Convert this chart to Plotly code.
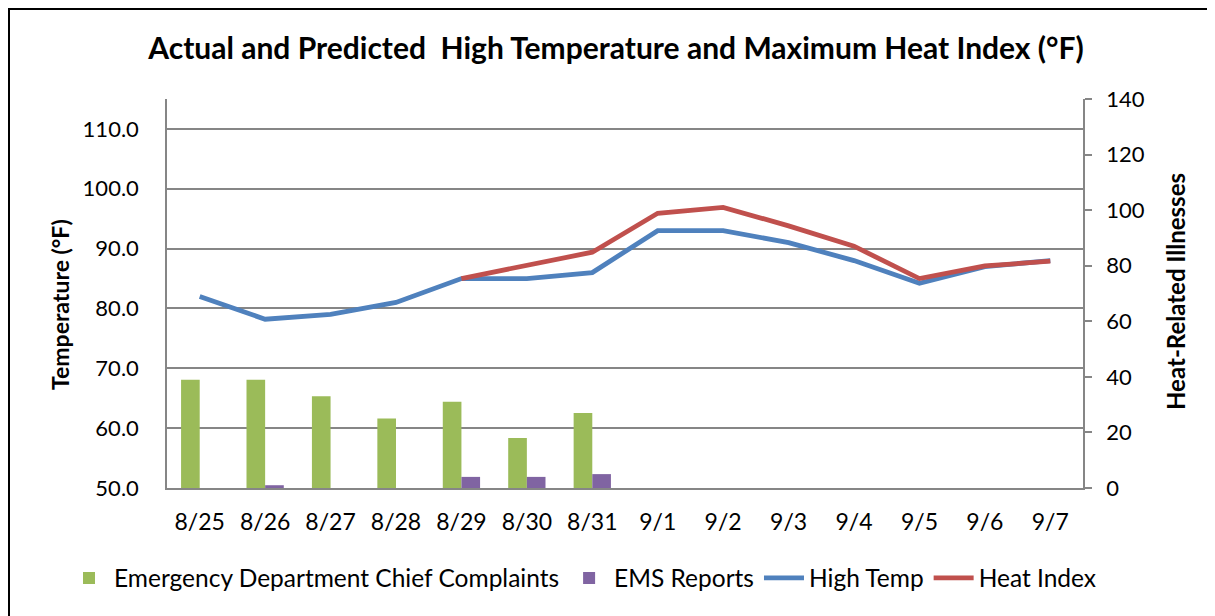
import plotly.graph_objects as go

dates = ["8/25", "8/26", "8/27", "8/28", "8/29", "8/30", "8/31",
         "9/1", "9/2", "9/3", "9/4", "9/5", "9/6", "9/7"]
ed_complaints = [39, 39, 33, 25, 31, 18, 27, None, None, None, None, None, None, None]
ems_reports = [0, 1, 0, 0, 4, 4, 5, None, None, None, None, None, None, None]
high_temp = [82, 78.2, 79, 81, 85, 85, 86, 93, 93, 91, 88, 84.2, 87, 88]
heat_index = [None, None, None, None, 85, 87.1, 89.4, 95.9, 96.9, 93.8, 90.4, 85, 87.1, 87.9]

left_ticks = [50, 60, 70, 80, 90, 100, 110]
right_ticks = [0, 20, 40, 60, 80, 100, 120, 140]

FONT = "Lato"
GRID = "#868686"
OFF = 8  # page body margin

fig = go.Figure()
fig.add_trace(go.Bar(x=dates, y=ed_complaints, name="Emergency Department Chief Complaints",
                     marker=dict(color="#9BBB59", line=dict(width=0)), yaxis="y2"))
fig.add_trace(go.Bar(x=dates, y=ems_reports, name="EMS Reports",
                     marker=dict(color="#8064A2", line=dict(width=0)), yaxis="y2"))
fig.add_trace(go.Scatter(x=dates, y=high_temp, name="High Temp", mode="lines",
                         line=dict(color="#4F81BD", width=4.8), yaxis="y"))
fig.add_trace(go.Scatter(x=dates, y=heat_index, name="Heat Index", mode="lines",
                         line=dict(color="#C0504D", width=4.8), yaxis="y", connectgaps=False))

W, H = 1215 - OFF, 616 - OFF
L, R, T, B = 167 - OFF, 1083 - OFF, 99 - OFF, 488 - OFF
pw, ph = R - L, B - T

def px(x):
    return (x - OFF - L) / pw

def py(y):
    return (B - (y - OFF)) / ph

fig.update_layout(
    width=W, height=H,
    margin=dict(l=L, r=W - R, t=T, b=H - B, autoexpand=False),
    paper_bgcolor="white", plot_bgcolor="white",
    barmode="group", bargap=0.43, bargroupgap=0,
    font=dict(family=FONT, color="black", size=22),
    title=dict(text="<b>Actual and Predicted  High Temperature and Maximum Heat Index (°F)</b>",
               x=px(616), xanchor="center", xref="paper", y=1 - (48 - OFF) / H, yanchor="middle",
               font=dict(family=FONT, size=30, color="black")),
    xaxis=dict(type="category", categoryorder="array", categoryarray=dates,
               showline=True, linecolor=GRID, linewidth=1.5, ticks="",
               showgrid=False, tickfont=dict(size=23), ticklabelstandoff=13),
    yaxis=dict(range=[50, 115], tickvals=left_ticks, ticktext=[f"{v:.1f}" for v in left_ticks],
               showline=True, linecolor=GRID, linewidth=1.5, ticks="",
               showgrid=True, gridcolor=GRID, gridwidth=1.5, zeroline=False,
               tickfont=dict(size=22), ticklabelstandoff=22),
    yaxis2=dict(range=[0, 140], tickvals=right_ticks, overlaying="y", side="right",
                showline=True, linecolor=GRID, linewidth=1.5, ticks="outside",
                ticklen=7, tickcolor=GRID, tickwidth=1.5, showgrid=False, zeroline=False,
                tickfont=dict(size=22), ticklabelstandoff=10),
    legend=dict(orientation="h", x=px(64), xanchor="left", y=py(578), yanchor="middle",
                font=dict(size=24.5), traceorder="normal", itemwidth=40,
                bgcolor="rgba(0,0,0,0)"),
    showlegend=True,
    annotations=[
        dict(text="<b>Temperature (°F)</b>", x=px(60), y=py(305), xref="paper", yref="paper",
             textangle=-90, showarrow=False, font=dict(size=23), xanchor="center", yanchor="middle"),
        dict(text="<b>Heat-Related Illnesses</b>", x=px(1175), y=py(292), xref="paper", yref="paper",
             textangle=-90, showarrow=False, font=dict(size=24), xanchor="center", yanchor="middle"),
    ],
    shapes=[
        dict(type="rect", xref="paper", yref="paper",
             x0=px(9), x1=px(1209), y0=py(640), y1=py(OFF + 1),
             line=dict(color="black", width=2), fillcolor="rgba(0,0,0,0)", layer="below"),
    ],
)

fig.write_html("out.html")
